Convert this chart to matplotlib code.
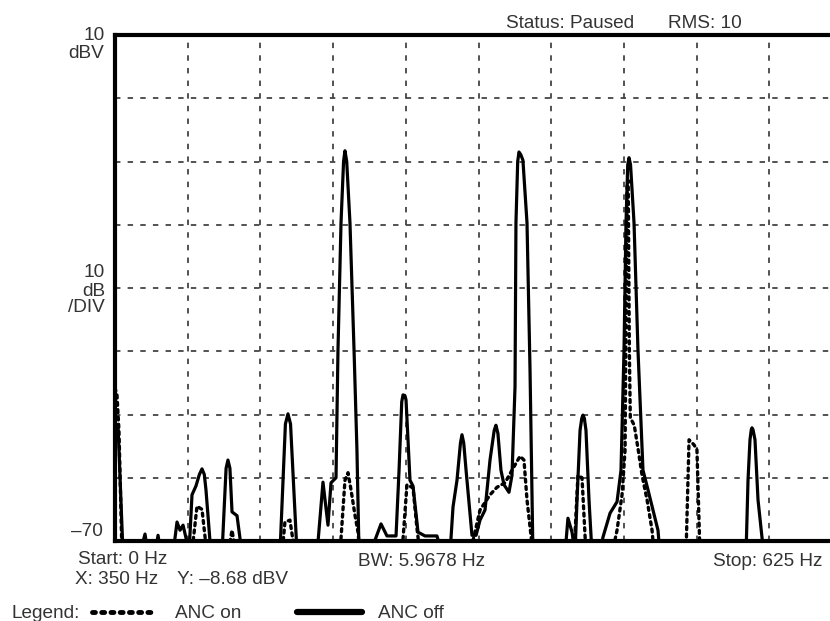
import numpy as np
import matplotlib.pyplot as plt

# ANC off trace (solid) - frequency in Hz, level in dBV; -72 means below floor
off_freq = [0, 2.6, 6.9, 21.5, 25.8, 28.4, 34.4, 37.0, 39.5, 49.9, 53.3, 55.9, 58.5, 61.0, 63.6,
            66.2, 69.6, 72.5, 74.8, 76.8, 78.2, 82.5, 92.0, 95.5, 97.1, 98.8, 100.6, 104.9, 109.2,
            141.8, 146.5, 148.7, 150.9, 156.5,
            173.7, 178.8, 183.1, 185.7, 190.0, 191.7, 194.3, 196.5, 197.7, 199.2, 202.0, 205.5,
            208.0, 209.8,
            219.2, 228.7, 233.8, 241.6, 244.2, 246.5, 247.6, 249.2, 250.2, 253.6, 256.2, 260.5,
            266.5, 276.8, 281.1,
            288.0, 290.6, 294.0, 297.0, 298.3, 299.8, 301.8, 306.9, 310.4, 313.8, 318.1, 322.4,
            326.0, 327.5, 329.2, 331.8, 334.4,
            338.7, 341.3, 343.9, 344.7, 346.2, 347.3, 348.8, 350.7, 354.2, 356.8, 359.3,
            386.9, 389.4, 392.9, 395.5, 397.2, 399.8, 401.3, 402.3, 403.5, 404.9, 407.5, 410.1,
            417.0, 419.5, 425.6, 431.6, 435.0, 437.6, 439.3, 440.8, 441.9, 443.2, 446.2, 449.6,
            453.9, 458.2, 462.5, 466.8, 468.5,
            542.5, 544.2, 545.9, 547.0, 547.6, 548.5, 550.2, 552.8, 556.2, 557.9, 625]
off_db = [-51.3, -51.8, -72, -72, -68.9, -72, -72, -69.1, -72, -72, -67.0, -68.3, -67.5, -69.5,
          -72,
          -62.7, -61.3, -59.5, -58.6, -59.5, -61.9, -72, -72, -58.5, -57.2, -58.5, -65.4, -66.0,
          -72,
          -72, -51.5, -49.9, -51.5, -72,
          -72, -60.7, -67.5, -60.8, -60.0, -39.8, -19.7, -10.0, -8.3, -10.0, -19.7, -39.8,
          -55.6, -72,
          -72, -67.3, -69.2, -69.2, -58.8, -48.0, -46.9, -47.0, -47.7, -60.4, -61.3, -68.6,
          -69.2, -69.2, -72,
          -72, -64.6, -60.4, -54.5, -53.2, -54.5, -58.8, -69.1, -69.1, -66.7, -65.1, -57.2,
          -52.5, -51.7, -53.0, -58.8, -61.1,
          -62.3, -59.6, -45.6, -19.7, -10.0, -8.5, -8.9, -9.8, -19.7, -43.0, -72,
          -72, -66.4, -68.6, -72, -63.5, -52.5, -50.6, -50.1, -50.6, -52.5, -63.5, -72,
          -72, -69.4, -65.6, -63.8, -58.8, -39.8, -19.7, -10.5, -9.4, -10.5, -19.7, -39.8,
          -58.8, -61.9, -65.1, -68.3, -72,
          -72, -60.4, -54.0, -52.4, -52.1, -52.4, -54.0, -63.5, -69.4, -72, -72]

# ANC on trace (dotted)
on_freq = [0, 1.7, 3.4, 6.0,
           66.0, 70.5, 74.8, 79.0,
           97.1, 100.6, 104.0,
           143.6, 146.1, 150.4, 154.7,
           193.4, 197.7, 200.3, 202.9, 206.3, 208.9, 210.6,
           246.7, 251.0, 256.2, 259.6, 262.2,
           305.2, 313.8, 322.4, 328.4, 335.3, 341.3, 348.2, 351.6, 354.2, 357.6, 359.3,
           394.6, 398.0, 401.5, 404.9,
           427.3, 431.6, 435.9, 438.5, 440.2, 441.2, 442.2, 443.0, 446.4, 449.8, 453.1, 457.4,
           461.7, 463.4,
           490.9, 493.5, 497.8, 500.3, 502.9]
on_db = [-45.8, -46.9, -52.5, -72,
         -72, -64.5, -65.0, -72,
         -72, -68.3, -72,
         -72, -67.0, -66.7, -72,
         -72, -60.4, -59.2, -61.9, -65.9, -68.6, -72,
         -72, -61.1, -61.6, -68.0, -72,
         -72, -65.1, -62.7, -61.5, -60.8, -58.8, -56.6, -57.2, -63.5, -69.1, -72,
         -72, -59.6, -60.0, -72,
         -72, -68.3, -62.7, -55.6, -14.0, -13.0, -40.0, -50.5, -51.7, -55.6, -59.6, -63.5,
         -68.3, -72,
         -72, -54.0, -54.8, -55.6, -72]

text_color = "#333333"
font = "Liberation Sans"

fig = plt.figure(figsize=(8.3, 6.21), dpi=100)
W, H = 830, 621
ax = fig.add_axes([115 / W, 1 - 541 / H, 727 / W, 506 / H])

ax.plot(off_freq, off_db, color="black", lw=2.3, solid_joinstyle="round", zorder=3)
ax.plot(on_freq, on_db, color="black", lw=2.4, linestyle=(0, (0.9, 1.3)),
        dash_capstyle="round", zorder=3)

ax.set_xlim(0, 625)
ax.set_ylim(-70, 10)
ax.set_xticks(np.arange(0, 626, 62.5))
ax.set_yticks(np.arange(-70, 11, 10))
ax.set_xticklabels([])
ax.set_yticklabels([])
ax.tick_params(length=0)
ax.grid(True, color="#444444", linestyle=(0, (3, 4)), linewidth=1.3)
ax.set_axisbelow(True)
for side in ["top", "left", "bottom"]:
    ax.spines[side].set_linewidth(3)
ax.spines["right"].set_visible(False)


def px_text(x, y, s, ha="left", va="center", size=13.7):
    fig.text(x / W, 1 - y / H, s, ha=ha, va=va, fontsize=size, color=text_color, family=font)


px_text(105, 35, "10", ha="right")
px_text(104, 53, "dBV", ha="right")
px_text(105, 273, "10", ha="right")
px_text(105, 291, "dB", ha="right")
px_text(105, 308, "/DIV", ha="right")
px_text(103, 532, "\u201370", ha="right")

px_text(570, 24, "Status: Paused", ha="center")
px_text(705, 24, "RMS: 10", ha="center")

px_text(78, 559, "Start: 0 Hz")
px_text(75, 580, "X: 350 Hz")
px_text(177, 580, "Y: \u20138.68 dBV")
px_text(358, 561, "BW: 5.9678 Hz")
px_text(822, 561, "Stop: 625 Hz", ha="right")

px_text(11, 613, "Legend:")
fig.add_artist(plt.Line2D([92 / W, 155 / W], [1 - 612 / H] * 2, color="black", lw=3.5,
                          linestyle=(0, (0.6, 1.3)), dash_capstyle="round"))
px_text(175, 613, "ANC on")
fig.add_artist(plt.Line2D([297 / W, 362 / W], [1 - 612 / H] * 2, color="black", lw=4.5,
                          solid_capstyle="round"))
px_text(378, 613, "ANC off")

fig.savefig("out.png", dpi=100)
